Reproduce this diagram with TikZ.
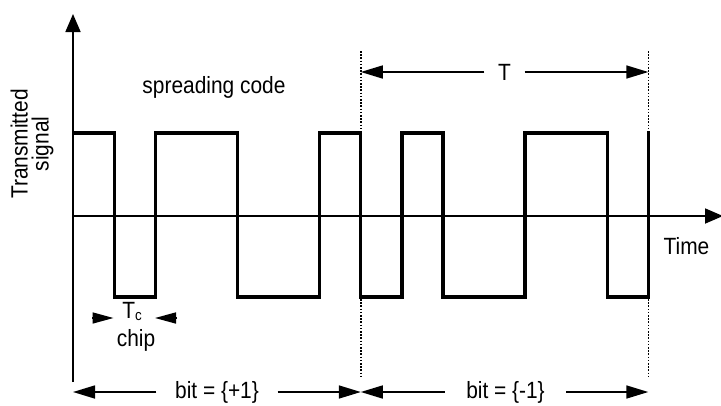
\documentclass[tikz,border=0pt]{standalone}
\usepackage{fontspec}
\setmainfont[FakeStretch=0.89]{Liberation Sans}
\usetikzlibrary{arrows.meta}
\begin{document}
\begin{tikzpicture}[x=1pt,y=-1pt,
  lbl/.style={font=\fontsize{23.5}{21}\selectfont, inner sep=0pt, text=black},
  wave/.style={line width=3.3pt, line join=miter, line cap=rect},
  axis/.style={line width=1.8pt, -{Triangle[length=18pt,width=15pt]}},
  dimline/.style={line width=1.6pt, -{Triangle[length=22pt,width=13pt]}},
  chiparrow/.style={line width=1.6pt, -{Triangle[length=21pt,width=11pt]}},
  guide/.style={line width=1.6pt, dash pattern=on 1.6pt off 1.6pt},
]
\useasboundingbox (0,0) rectangle (721,405);

% axes
\coordinate (ybot) at (73,382);
\coordinate (ytop) at (73,14);
\coordinate (O)    at (73,216);
\coordinate (xend) at (723,216);
\draw[axis] (ybot) -- (ytop);
\draw[axis] (O) -- (xend);

% spreading code: +1 bit followed by -1 bit (7 chips each)
\draw[wave] (73.3,133) -- (114.4,133) -- (114.4,297) -- (155.4,297)
  -- (155.4,133) -- (237.6,133) -- (237.6,297) -- (319.7,297)
  -- (319.7,133) -- (360.8,133) -- (360.8,297) -- (401.9,297)
  -- (401.9,133) -- (442.9,133) -- (442.9,297) -- (525.0,297)
  -- (525.0,133) -- (607.2,133) -- (607.2,297) -- (648.3,297)
  -- (648.3,133);

% bit boundaries
\coordinate (g1t) at (360.8,51);  \coordinate (g1h) at (360.8,131);
\coordinate (g1l) at (360.8,299); \coordinate (g1b) at (360.8,377);
\coordinate (g2t) at (648.3,51);  \coordinate (g2h) at (648.3,131);
\coordinate (g2l) at (648.3,299); \coordinate (g2b) at (648.3,377);
\draw[guide] (g1t) -- (g1h);
\draw[guide] (g1l) -- (g1b);
\draw[guide] (g2t) -- (g2h);
\draw[guide] (g2l) -- (g2b);

% labels
\node[lbl, rotate=90, align=center] (ylabel) at (32,144) {Transmitted\\signal};
\node[lbl, anchor=base] (code) at (214,93) {spreading code};
\node[lbl, anchor=base] (time) at (686.5,254) {Time};

% period T
\coordinate (Tl) at (360.8,72);
\coordinate (Tr) at (648.3,72);
\node[lbl, anchor=base, minimum width=40pt] (Tlab) at (504.5,80) {T};
\draw[dimline] (Tlab.west |- Tl) -- (Tl);
\draw[dimline] (Tlab.east |- Tr) -- (Tr);

% chip duration
\coordinate (c1) at (92,318);  \coordinate (c1t) at (113.5,318);
\coordinate (c2) at (177,318); \coordinate (c2t) at (155,318);
\node[lbl, anchor=base] (Tc) at (132,318) {T\raisebox{-2pt}{\fontsize{15}{15}\selectfont c}};
\node[lbl, anchor=base] (chip) at (136,346) {chip};
\draw[chiparrow] (c1) -- (c1t);
\draw[chiparrow] (c2) -- (c2t);

% bit durations
\coordinate (b0) at (73,392);
\coordinate (b1) at (360.8,392);
\coordinate (b2) at (648.3,392);
\node[lbl, anchor=base, minimum width=121pt] (bitA) at (217,398) {bit = \{+1\}};
\node[lbl, anchor=base, minimum width=121pt] (bitB) at (505.5,398) {bit = \{-1\}};
\draw[dimline] (bitA.west |- b0) -- (b0);
\draw[dimline] (bitA.east |- b1) -- (b1);
\draw[dimline] (bitB.west |- b1) -- (b1);
\draw[dimline] (bitB.east |- b2) -- (b2);
\end{tikzpicture}
\end{document}
